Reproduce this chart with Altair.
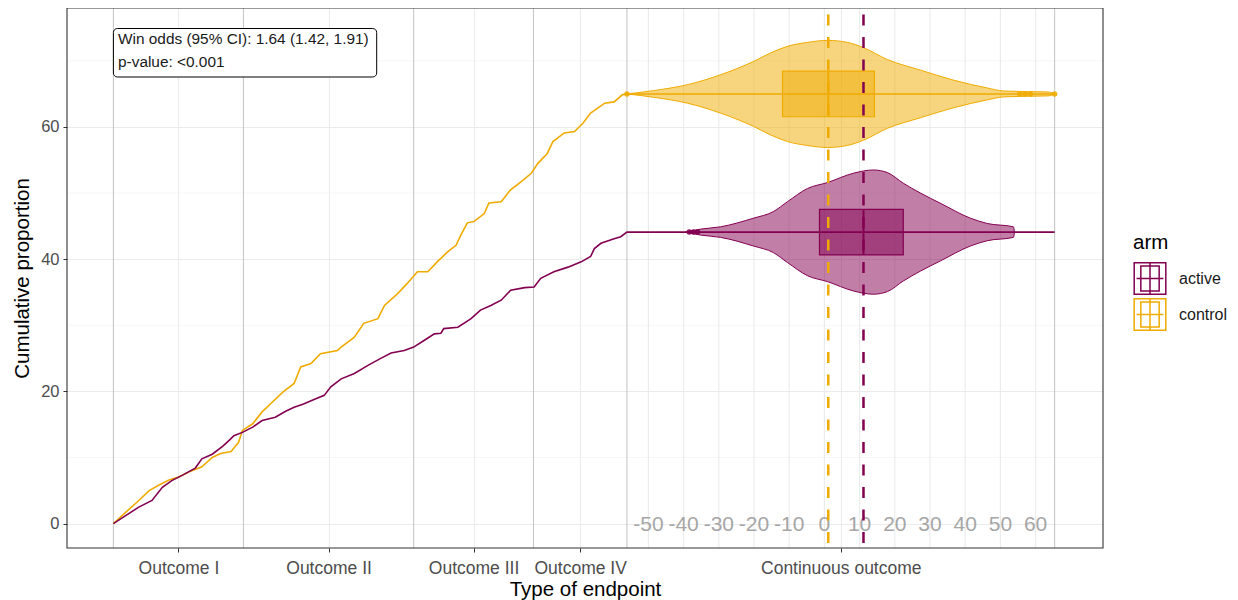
import altair as alt
import pandas as pd

# ---------------- data ----------------
arms = ["active", "control"]
arm_colors = ["#830051", "#F0AB00"]

outcome_labels = ["Outcome I", "Outcome II", "Outcome III", "Outcome IV", "Continuous outcome"]
boundaries = [0, 13.82, 31.9, 44.63, 54.56, 100]
cont_min, cont_max = -56.1, 65.4
cont_ticks = [-50, -40, -30, -20, -10, 0, 10, 20, 30, 40, 50, 60]
y_ticks = [0, 20, 40, 60]
y_minor = [10, 30, 50, 70]

control_x = [0, 1.3, 2.7, 3.8, 4.8, 5.9, 7.0, 8.0, 9.4, 10.5,
             11.4, 12.5, 13.3, 13.7, 14.8, 15.8, 16.9, 18.0, 19.2, 19.9,
             21.0, 22.0, 23.8, 24.2, 25.6, 26.6, 28.1, 28.8, 30.2, 31.2,
             32.3, 33.4, 34.4, 35.5, 36.4, 36.9, 37.6, 38.3, 39.4, 39.9,
             41.2, 42.2, 43.3, 44.4, 45.1, 46.1, 46.7, 47.9, 49.0, 49.9,
             50.7, 52.2, 53.2, 54.1, 54.56, 100]
control_y = [0, 1.7, 3.5, 5.0, 5.8, 6.6, 7.1, 7.8, 8.6, 10.0,
             10.6, 10.9, 12.3, 14.1, 15.1, 16.9, 18.4, 19.9, 21.2, 23.7,
             24.2, 25.7, 26.2, 26.7, 28.2, 30.3, 31.0, 33.0, 34.8, 36.3,
             38.1, 38.1, 39.6, 41.1, 42.1, 43.6, 45.5, 45.7, 46.9, 48.5,
             48.7, 50.5, 51.7, 53.0, 54.5, 56.0, 57.8, 59.1, 59.3, 60.6,
             62.1, 63.6, 63.8, 64.9, 65.0, 65.0]

active_x = [0, 1.3, 2.7, 4.1, 5.2, 6.2, 7.3, 8.7, 9.4, 10.5,
            11.6, 12.3, 12.8, 13.7, 14.8, 15.8, 17.2, 18.3, 19.2, 20.2,
            21.0, 22.4, 23.1, 24.2, 25.6, 27.0, 28.4, 29.5, 30.9, 31.9,
            33.0, 34.1, 34.8, 35.1, 36.6, 38.0, 39.0, 40.1, 41.2, 42.2,
            43.7, 44.7, 45.4, 46.8, 48.3, 49.7, 50.7, 51.1, 51.8, 53.2,
            53.9, 54.56, 100]
active_y = [0, 1.2, 2.5, 3.5, 5.5, 6.5, 7.3, 8.4, 9.8, 10.5,
            11.7, 12.6, 13.3, 13.8, 14.6, 15.6, 16.1, 17.0, 17.6, 18.1,
            18.6, 19.4, 20.7, 21.9, 22.7, 23.9, 25.0, 25.8, 26.2, 26.7,
            27.7, 28.7, 28.8, 29.5, 29.7, 31.0, 32.3, 33.0, 33.8, 35.3,
            35.7, 35.8, 37.1, 38.1, 38.8, 39.6, 40.4, 41.6, 42.4, 43.1,
            43.4, 44.1, 44.1]

# violin outlines (continuous value, half width in cumulative-proportion units)
control_violin_v = [-56.1, -48.6, -38.9, -29.5, -20.2, -15.3, -10.5, -4.8, 0.9, 6.5,
                    11.1, 17.9, 27.3, 36.6, 46.3, 50.9, 58.0, 63.4, 65.4]
control_violin_w = [0, 0.5, 1.4, 2.9, 4.9, 6.2, 7.2, 7.8, 8.1, 7.8,
                    7.0, 5.2, 3.6, 2.1, 0.9, 0.45, 0.35, 0.3, 0]
active_violin_v = [-39.5, -35.2, -29.5, -20.2, -14.5, -10.5, -4.8, 0.9, 8.2, 13.9,
                   17.9, 22.4, 27.3, 33.0, 41.5, 46.3, 53.7, 54.0]
active_violin_w = [0, 0.45, 0.8, 2.1, 3.1, 4.6, 6.6, 7.5, 8.9, 9.4,
                   9.0, 7.4, 5.9, 4.35, 2.1, 1.3, 0.8, 0]

box_arm = ["active", "control"]
box_level = [44.1, 65.0]
box_q1 = [-1.4, -11.9]
box_median = [11.1, 1.1]
box_q3 = [22.4, 14.2]

outlier_arm = ["control", "control", "control", "control", "control", "active", "active", "active"]
outlier_v = [-56.1, 55.5, 57.0, 58.5, 65.4, -38.4, -37.2, -36.0]

annotation_lines = ["Win odds (95% CI): 1.64 (1.42, 1.91)", "p-value: <0.001"]

# ---------------- helpers ----------------
FONT = "Liberation Sans"
W, H = 1036, 540
B = boundaries[-2]


def to_x(v):
    return B + (v - cont_min) / (cont_max - cont_min) * (100 - B)


level = dict(zip(box_arm, box_level))

xs = alt.Scale(domain=[-4.93, 105.14], nice=False, zero=False)
ys = alt.Scale(domain=[-3.69, 78], nice=False, zero=False)
cscale = alt.Scale(domain=arms, range=arm_colors)
# same mapping, listed in the other order so these guide-less scales never merge with the legend
cscale_nl = alt.Scale(domain=arms[::-1], range=arm_colors[::-1])

mids = [(boundaries[i] + boundaries[i + 1]) / 2 for i in range(len(outcome_labels))]
expr = ""
for b, lab in zip(boundaries[1:-1], outcome_labels[:-1]):
    expr += f"datum.value < {b} ? '{lab}' : "
expr += f"'{outcome_labels[-1]}'"

x_axis = alt.Axis(
    values=mids, labelExpr=expr, title="Type of endpoint", grid=True,
    gridColor="#EBEBEB", gridWidth=1.1, domain=False, ticks=True, tickSize=4,
    tickColor="#333333", labelColor="#4D4D4D", labelFontSize=17.5, labelFont=FONT,
    labelPadding=7, titleFontSize=20.5, titleFont=FONT, titleFontWeight="normal",
    titleColor="#000000", titlePadding=3)
y_axis = alt.Axis(
    values=y_ticks, title="Cumulative proportion", grid=True, gridColor="#EBEBEB",
    gridWidth=1.1, domain=False, tickSize=4, tickColor="#333333", labelColor="#4D4D4D",
    labelFontSize=16.5, labelFont=FONT, labelPadding=4, titleFontSize=20.5, titleFont=FONT,
    titleFontWeight="normal", titleColor="#000000", titlePadding=8)


def X(field):
    return alt.X(field, scale=xs, axis=x_axis)


def Y(field):
    return alt.Y(field, scale=ys, axis=y_axis)


steps = pd.concat([
    pd.DataFrame({"arm": "control", "x": control_x, "y": control_y, "o": range(len(control_x))}),
    pd.DataFrame({"arm": "active", "x": active_x, "y": active_y, "o": range(len(active_x))}),
])

vio_rows = []
for arm, vv, ww in [("control", control_violin_v, control_violin_w),
                    ("active", active_violin_v, active_violin_w)]:
    for v, w in zip(vv, ww):
        vio_rows.append({"arm": arm, "x": to_x(v), "hi": level[arm] + w, "lo": level[arm] - w})
violins = pd.DataFrame(vio_rows)

BOX_HALF = 3.45
boxes = pd.DataFrame({
    "arm": box_arm,
    "x1": [to_x(v) for v in box_q1],
    "x2": [to_x(v) for v in box_q3],
    "xm": [to_x(v) for v in box_median],
    "y1": [l - BOX_HALF for l in box_level],
    "y2": [l + BOX_HALF for l in box_level],
})

outliers = pd.DataFrame({"arm": outlier_arm, "x": [to_x(v) for v in outlier_v],
                         "y": [level[a] for a in outlier_arm]})

cont_df = pd.DataFrame({"x": [to_x(v) for v in cont_ticks], "lab": [str(v) for v in cont_ticks],
                        "y": [0] * len(cont_ticks)})
bound_df = pd.DataFrame({"x": boundaries})
yminor_df = pd.DataFrame({"y": y_minor})
one = pd.DataFrame({"a": [0]})

# ---------------- layers ----------------
ymin_layer = alt.Chart(yminor_df).mark_rule(color="#F2F2F2", strokeWidth=0.7).encode(y=Y("y:Q"))

cont_grid = alt.Chart(cont_df).mark_rule(color="#EBEBEB", strokeWidth=1.1).encode(x=X("x:Q"))

bound_layer = alt.Chart(bound_df).mark_rule(color="#C8C8C8", strokeWidth=1.1).encode(x=X("x:Q"))

violin_layer = alt.Chart(violins).mark_area(fillOpacity=0.5, strokeWidth=1, interpolate="monotone").encode(
    x=X("x:Q"), y=Y("hi:Q"), y2="lo:Q",
    fill=alt.Fill("arm:N", scale=cscale_nl, legend=None),
    stroke=alt.Stroke("arm:N", scale=cscale_nl, legend=None),
)

legend_path = "M-1,-1H1V1H-1Z M-0.58,-0.79H0.58V0.79H-0.58Z M0,-1.05V1 M-0.85,0H0.85"

step_layer = alt.Chart(steps).mark_line(interpolate="linear", strokeWidth=1.6).encode(
    x=X("x:Q"), y=Y("y:Q"),
    color=alt.Color("arm:N", scale=cscale, legend=alt.Legend(
        title="arm", orient="none", legendX=1066, legendY=225,
        symbolType=legend_path, symbolSize=1000, symbolStrokeWidth=1.5,
        symbolFillColor="white", labelFontSize=16, labelFont=FONT, labelColor="#1a1a1a",
        titleFontSize=20.5, titleFont=FONT, titleFontWeight="normal", titleColor="#000000",
        labelOffset=12, rowPadding=-9.5, titlePadding=8)),
    order="o:Q",
)

box_layer = alt.Chart(boxes).mark_rect(fillOpacity=0.5, strokeWidth=1.2).encode(
    x=X("x1:Q"), x2="x2:Q", y=Y("y1:Q"), y2="y2:Q",
    fill=alt.Fill("arm:N", scale=cscale_nl, legend=None),
    stroke=alt.Stroke("arm:N", scale=cscale_nl, legend=None),
)

median_layer = alt.Chart(boxes).mark_rule(strokeWidth=2).encode(
    x=X("xm:Q"), y=Y("y1:Q"), y2="y2:Q",
    stroke=alt.Stroke("arm:N", scale=cscale_nl, legend=None),
)

outlier_layer = alt.Chart(outliers).mark_circle(size=30, opacity=0.9).encode(
    x=X("x:Q"), y=Y("y:Q"),
    fill=alt.Fill("arm:N", scale=cscale_nl, legend=None),
)

cont_text = alt.Chart(cont_df).mark_text(fontSize=21, font=FONT, color="#A6A6A6",
                                          baseline="middle", dy=1).encode(
    x=X("x:Q"), y=Y("y:Q"), text="lab:N",
)

dash_layer = alt.Chart(boxes).mark_rule(strokeWidth=2.5, strokeDash=[11, 11.5], strokeDashOffset=16).encode(
    x=X("xm:Q"),
    stroke=alt.Stroke("arm:N", scale=cscale_nl, legend=None),
)

frame = alt.Chart(one).mark_rect(filled=False, stroke="#333333", strokeWidth=1.1).encode(
    x=alt.value(0), x2=alt.value(W), y=alt.value(0), y2=alt.value(H))

ann_box = alt.Chart(one).mark_rect(
    fill="white", stroke="black", strokeWidth=1, cornerRadius=4).encode(
    x=alt.value(46.4), x2=alt.value(309.7), y=alt.value(20.5), y2=alt.value(69))

ann_text1 = alt.Chart(one).mark_text(
    align="left", baseline="middle", fontSize=15.4, font=FONT, color="#1a1a1a",
    text=annotation_lines[0]).encode(x=alt.value(51), y=alt.value(31))
ann_text2 = alt.Chart(one).mark_text(
    align="left", baseline="middle", fontSize=15.4, font=FONT, color="#1a1a1a",
    text=annotation_lines[1]).encode(x=alt.value(51), y=alt.value(54))

chart = alt.layer(
    ymin_layer, cont_grid, bound_layer, violin_layer, step_layer, box_layer, median_layer,
    outlier_layer, cont_text, dash_layer, frame, ann_box, ann_text1, ann_text2,
).properties(
    width=W, height=H,
    autosize=alt.AutoSizeParams(type="none"),
    padding={"left": 59, "top": 0, "right": 127, "bottom": 60},
).configure(font=FONT).configure_view(stroke=None)

chart.save("out.html", embed_options={"renderer": "svg", "actions": False})
